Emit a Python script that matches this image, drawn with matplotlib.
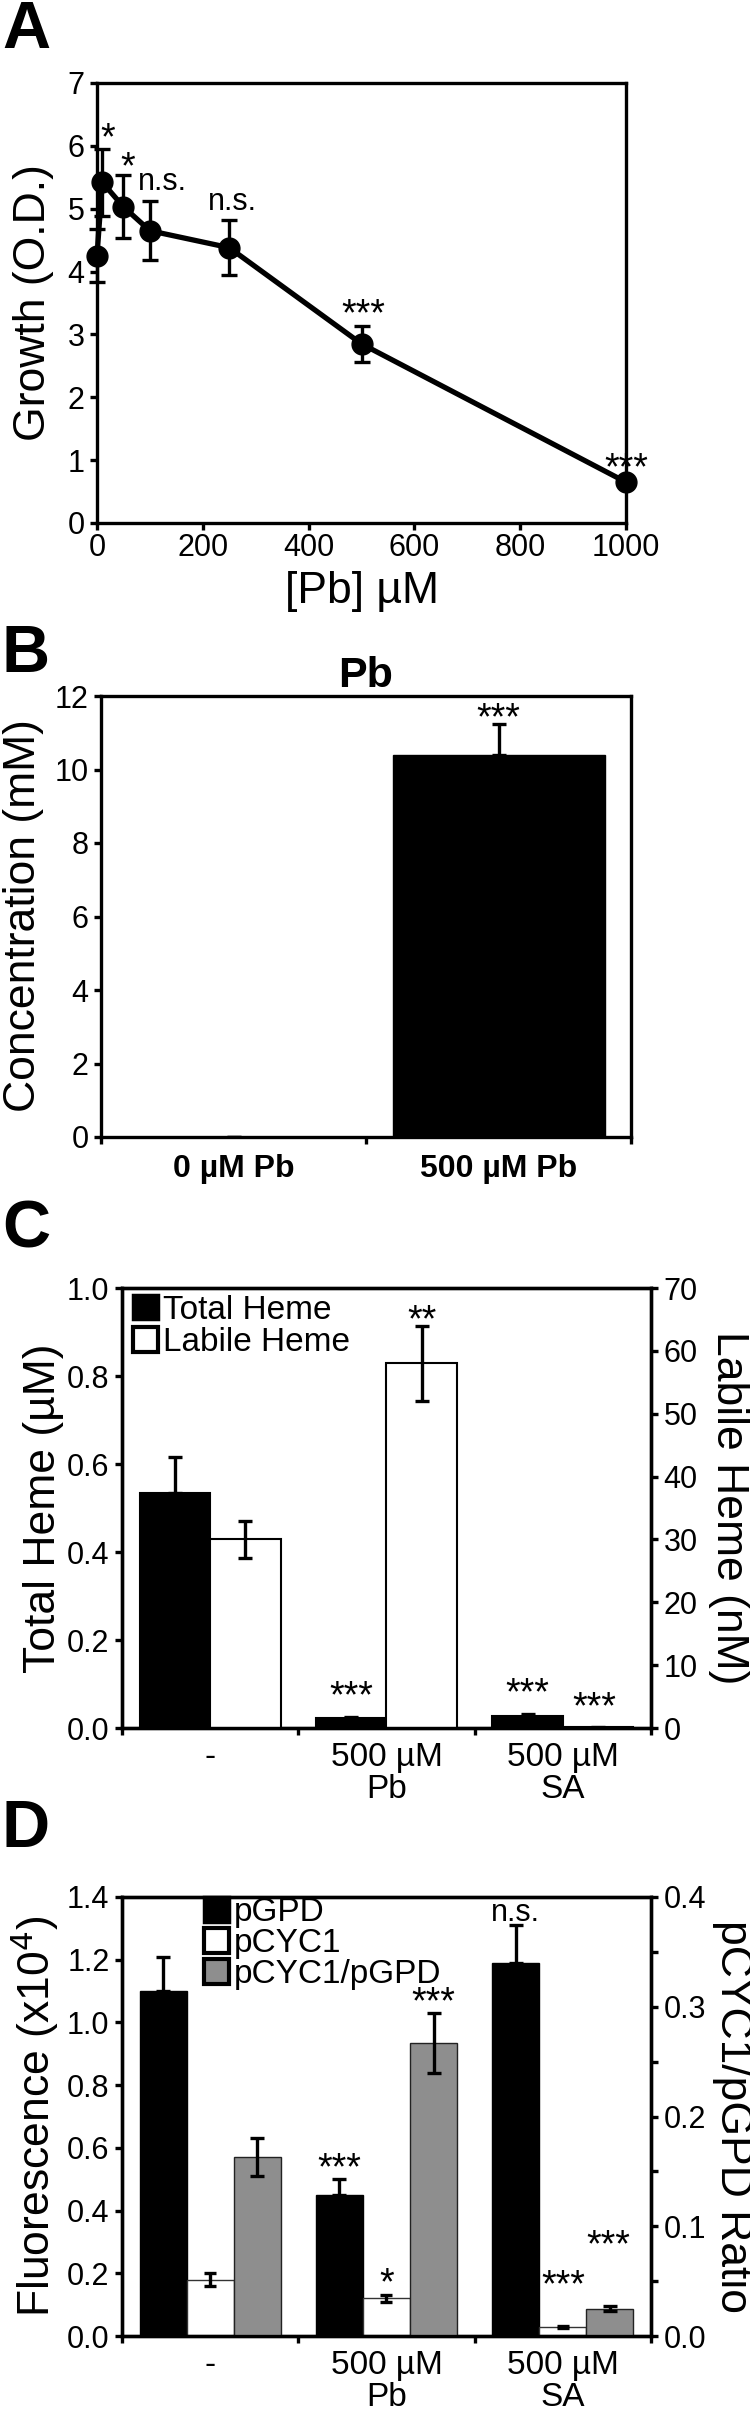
import matplotlib
matplotlib.use('Agg')
import matplotlib.pyplot as plt
import numpy as np
from matplotlib.patches import Patch
from matplotlib.ticker import FixedLocator, FuncFormatter

plt.rcParams['font.family'] = ['Liberation Sans', 'DejaVu Sans']
plt.rcParams['axes.linewidth'] = 2.4

# ---------------- data ----------------
# Panel A
pb_conc = [0, 10, 50, 100, 250, 500, 1000]
growth = [4.25, 5.42, 5.03, 4.65, 4.38, 2.85, 0.65]
growth_err = [0.42, 0.53, 0.50, 0.47, 0.44, 0.29, 0.05]
growth_sig = ['', '*', '*', 'n.s.', 'n.s.', '***', '***']

# Panel B
b_labels = ['0 µM Pb', '500 µM Pb']
pb_content = [0.0, 10.4]
pb_content_err = [0.0, 0.85]
pb_sig = ['', '***']

# Panel C
c_labels = ['-', '500 µM\nPb', '500 µM\nSA']
total_heme = [0.535, 0.022, 0.028]
total_heme_err = [0.08, 0.004, 0.004]
labile_heme = [30.0, 58.0, 0.1]
labile_heme_err = [3.0, 6.0, 0.1]
total_sig = ['', '***', '***']
labile_sig = ['', '**', '***']

# Panel D
d_labels = ['-', '500 µM\nPb', '500 µM\nSA']
pgpd = [1.10, 0.45, 1.19]
pgpd_err = [0.11, 0.05, 0.12]
pcyc1 = [0.18, 0.12, 0.03]
pcyc1_err = [0.02, 0.012, 0.003]
ratio = [0.163, 0.267, 0.025]
ratio_err = [0.017, 0.027, 0.002]
pgpd_sig = ['', '***', 'n.s.']
pcyc1_sig = ['', '*', '***']
ratio_sig = ['', '***', '***']

# ---------------- layout helpers ----------------
W, H = 750, 2417
fig = plt.figure(figsize=(W / 100, H / 100), dpi=100)


def rect(l, r, t, b):
    return [l / W, 1 - b / H, (r - l) / W, (b - t) / H]


def fx(x):
    return x / W


def fy(y):
    return 1 - y / H


TICK_FS = 22
LABEL_FS = 32
CAT_FS = 24
STAR_FS = 27
NS_FS = 22
LW = 2.4
ELW = 2.4


def style_axes(ax):
    for s in ax.spines.values():
        s.set_linewidth(LW)
    ax.tick_params(direction='out', length=5, width=LW, labelsize=TICK_FS, pad=4)


def panel_letter(letter, baseline_y):
    fig.text(fx(2), fy(baseline_y), letter, fontsize=48, fontweight='bold',
             ha='left', va='baseline')


def sig_text(ax, x, y, s, dx=0, dy=0):
    fs = NS_FS if s == 'n.s.' else STAR_FS
    ax.annotate(s, (x, y), xytext=(dx, dy), textcoords='offset points',
                ha='center', va='baseline', fontsize=fs, annotation_clip=False)


# ---------------- Panel A ----------------
axA = fig.add_axes(rect(97, 626, 83, 523))
style_axes(axA)
axA.errorbar(pb_conc, growth, yerr=growth_err, fmt='o-', color='k', ms=15,
             lw=3.8, elinewidth=ELW, capsize=6, capthick=ELW, clip_on=False, zorder=3)
axA.set_xlim(0, 1000)
axA.set_ylim(0, 7)
axA.set_xticks([0, 200, 400, 600, 800, 1000])
axA.set_yticks(range(0, 8))
axA.tick_params(axis='x', pad=2)
a_off = [(0, 0), (4, 0), (3, -2), (9, 8), (2, 7), (1, 0), (0, 0)]
for xi, yi, ei, s, (dx, dy) in zip(pb_conc, growth, growth_err, growth_sig, a_off):
    if s:
        sig_text(axA, xi, yi + ei, s, dx, dy)
fig.text(fx(34), fy(303), 'Growth (O.D.)', rotation=90, fontsize=LABEL_FS,
         ha='center', va='center')
fig.text(fx(362), fy(592), '[Pb] µM', fontsize=LABEL_FS, ha='center', va='center')
panel_letter('A', 48)

# ---------------- Panel B ----------------
axB = fig.add_axes(rect(101, 631, 696, 1137))
style_axes(axB)
xb = np.arange(len(b_labels))
axB.bar(xb, pb_content, width=0.8, color='k', edgecolor='k')
axB.errorbar(xb, pb_content, yerr=[np.zeros(len(xb)), pb_content_err], fmt='none',
             ecolor='k', elinewidth=ELW, capsize=5, capthick=ELW)
axB.set_xlim(-0.5, 1.5)
axB.set_ylim(0, 12)
axB.set_yticks(range(0, 13, 2))
axB.set_xticks(xb)
axB.set_xticklabels(b_labels, fontsize=23, fontweight='bold')
axB.tick_params(axis='x', which='major', length=0, pad=12)
axB.xaxis.set_minor_locator(FixedLocator([-0.5, 0.5, 1.5]))
axB.tick_params(axis='x', which='minor', direction='out', length=5, width=LW)
for xi, yi, ei, s in zip(xb, pb_content, pb_content_err, pb_sig):
    if s:
        sig_text(axB, xi, yi + ei, s, 0, -4)
axB.set_title('Pb', fontsize=31, fontweight='bold', pad=4)
fig.text(fx(24), fy(916), 'Concentration (mM)', rotation=90, fontsize=LABEL_FS,
         ha='center', va='center')
panel_letter('B', 672)

# ---------------- Panel C ----------------
axC = fig.add_axes(rect(122, 651, 1288, 1728))
style_axes(axC)
axC2 = axC.twinx()
style_axes(axC2)
xc = np.arange(len(c_labels))
bw = 0.4
axC.bar(xc - bw / 2, total_heme, width=bw, color='k', edgecolor='k', lw=1.5)
axC.errorbar(xc - bw / 2, total_heme, yerr=[np.zeros(len(xc)), total_heme_err], fmt='none',
             ecolor='k', elinewidth=ELW, capsize=5, capthick=ELW)
axC2.bar(xc + bw / 2, labile_heme, width=bw, color='white', edgecolor='k', lw=1.5)
axC2.errorbar(xc + bw / 2, labile_heme, yerr=labile_heme_err, fmt='none',
              ecolor='k', elinewidth=ELW, capsize=5, capthick=ELW)
axC.set_xlim(-0.5, 2.5)
axC.set_ylim(0, 1.0)
axC.set_yticks(np.arange(0, 1.01, 0.2))
axC.yaxis.set_major_formatter(FuncFormatter(lambda v, p: f'{v:.1f}'))
axC2.set_ylim(0, 70)
axC2.set_yticks(range(0, 71, 10))
axC.set_xticks(xc)
axC.set_xticklabels(c_labels, fontsize=CAT_FS, linespacing=1.05)
axC.tick_params(axis='x', which='major', length=0, pad=10)
axC.xaxis.set_minor_locator(FixedLocator([-0.5, 0.5, 1.5, 2.5]))
axC.tick_params(axis='x', which='minor', direction='out', length=5, width=LW)
axC2.tick_params(axis='y', pad=4)
c_total_off = [(0, 0), (0, 7), (0, 7)]
c_lab_off = [(0, 0), (0, -4), (-3, 6)]
for xi, yi, ei, s, (dx, dy) in zip(xc - bw / 2, total_heme, total_heme_err, total_sig, c_total_off):
    if s:
        sig_text(axC, xi, yi + ei, s, dx, dy)
for xi, yi, ei, s, (dx, dy) in zip(xc + bw / 2, labile_heme, labile_heme_err, labile_sig, c_lab_off):
    if s:
        sig_text(axC2, xi, yi + ei, s, dx, dy)
axC.legend(handles=[Patch(facecolor='k', edgecolor='k', lw=2.5, label='Total Heme'),
                    Patch(facecolor='white', edgecolor='k', lw=3, label='Labile Heme')],
           loc='upper left', bbox_to_anchor=(0.02, 0.985), frameon=False,
           fontsize=24, handlelength=0.75, handleheight=0.75, handletextpad=0.15,
           labelspacing=0.05, borderaxespad=0, borderpad=0)
fig.text(fx(44), fy(1508), 'Total Heme (µM)', rotation=90, fontsize=LABEL_FS,
         ha='center', va='center')
fig.text(fx(729), fy(1508), 'Labile Heme (nM)', rotation=270, fontsize=LABEL_FS,
         ha='center', va='center')
panel_letter('C', 1247)

# ---------------- Panel D ----------------
axD = fig.add_axes(rect(122, 651, 1897, 2336))
style_axes(axD)
axD2 = axD.twinx()
style_axes(axD2)
xd = np.arange(len(d_labels))
bw = 0.8 / 3
axD.bar(xd - bw, pgpd, width=bw, color='k', edgecolor='k', lw=1)
axD.errorbar(xd - bw, pgpd, yerr=[np.zeros(len(xd)), pgpd_err], fmt='none',
             ecolor='k', elinewidth=ELW, capsize=5, capthick=ELW)
axD.bar(xd, pcyc1, width=bw, color='white', edgecolor='#333333', lw=1)
axD.errorbar(xd, pcyc1, yerr=pcyc1_err, fmt='none',
             ecolor='k', elinewidth=ELW, capsize=4, capthick=ELW)
axD2.bar(xd + bw, ratio, width=bw, color='#8e8e8e', edgecolor='#222222', lw=1)
axD2.errorbar(xd + bw, ratio, yerr=ratio_err, fmt='none',
              ecolor='k', elinewidth=ELW, capsize=5, capthick=ELW)
axD.set_xlim(-0.5, 2.5)
axD.set_ylim(0, 1.4)
axD.set_yticks(np.arange(0, 1.41, 0.2))
axD.yaxis.set_major_formatter(FuncFormatter(lambda v, p: f'{v:.1f}'))
axD2.set_ylim(0, 0.4)
axD2.set_yticks(np.arange(0, 0.41, 0.1))
axD2.yaxis.set_major_formatter(FuncFormatter(lambda v, p: f'{v:.1f}'))
axD2.yaxis.set_minor_locator(FixedLocator([0.05, 0.15, 0.25, 0.35]))
axD2.tick_params(axis='y', which='minor', direction='out', length=5, width=LW)
axD.set_xticks(xd)
axD.set_xticklabels(d_labels, fontsize=CAT_FS, linespacing=1.05)
axD.tick_params(axis='x', which='major', length=0, pad=10)
axD.xaxis.set_minor_locator(FixedLocator([-0.5, 0.5, 1.5, 2.5]))
axD.tick_params(axis='x', which='minor', direction='out', length=5, width=LW)
d_gpd_off = [(0, 0), (0, 0), (0, 3)]
d_cyc_off = [(0, 0), (0, 0), (0, 21)]
d_rat_off = [(0, 0), (0, 0), (-1, 36)]
for xi, yi, ei, s, (dx, dy) in zip(xd - bw, pgpd, pgpd_err, pgpd_sig, d_gpd_off):
    if s:
        sig_text(axD, xi, yi + ei, s, dx, dy)
for xi, yi, ei, s, (dx, dy) in zip(xd, pcyc1, pcyc1_err, pcyc1_sig, d_cyc_off):
    if s:
        sig_text(axD, xi, yi + ei, s, dx, dy)
for xi, yi, ei, s, (dx, dy) in zip(xd + bw, ratio, ratio_err, ratio_sig, d_rat_off):
    if s:
        sig_text(axD2, xi, yi + ei, s, dx, dy)
axD.legend(handles=[Patch(facecolor='k', edgecolor='k', lw=2.5, label='pGPD'),
                    Patch(facecolor='white', edgecolor='k', lw=3, label='pCYC1'),
                    Patch(facecolor='#8e8e8e', edgecolor='k', lw=3, label='pCYC1/pGPD')],
           loc='upper left', bbox_to_anchor=(0.155, 1.0), frameon=False,
           fontsize=24, handlelength=0.75, handleheight=0.75, handletextpad=0.15,
           labelspacing=0.0, borderaxespad=0, borderpad=0)
fig.text(fx(35), fy(2116), 'Fluorescence (x10$^{4}$)', rotation=90, fontsize=LABEL_FS,
         ha='center', va='center')
fig.text(fx(733), fy(2116), 'pCYC1/pGPD Ratio', rotation=270, fontsize=LABEL_FS,
         ha='center', va='center')
panel_letter('D', 1847)

fig.savefig('out.png', dpi=100)
